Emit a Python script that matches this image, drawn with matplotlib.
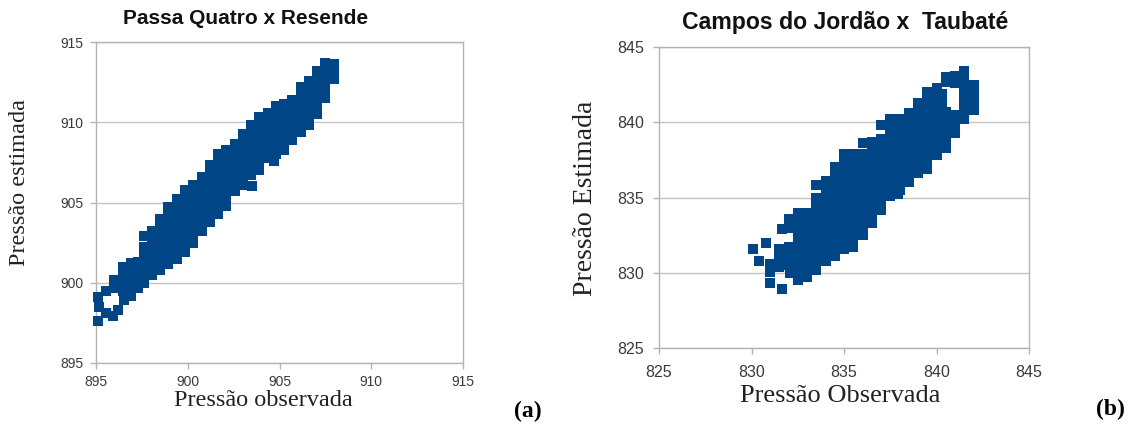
import matplotlib
matplotlib.use("Agg")
import matplotlib.pyplot as plt

# ---------------- data ----------------
pq_title = "Passa Quatro x Resende"
pq_xlabel = "Pressão observada"
pq_ylabel = "Pressão estimada"
pq_ticks = [895, 900, 905, 910, 915]
pq_pairs = [
    (895.1, 899.1), (895.15, 898.5), (895.1, 897.6), (895.55, 898.1), (895.95, 897.9),
    (896.2, 898.3), (895.55, 899.5), (896.0, 899.7), (896.0, 900.2), (896.5, 898.9),
    (896.45, 899.5), (896.45, 900.05), (896.45, 900.6), (896.45, 901.0),
    (896.9, 899.2), (896.9, 899.75), (896.9, 900.3), (896.9, 900.85), (896.9, 901.2),
    (897.3, 899.7), (897.3, 900.25), (897.3, 900.8), (897.3, 901.3),
    (897.6, 900.0), (897.6, 900.55), (897.6, 901.1), (897.6, 901.65), (897.6, 902.2), (897.6, 902.9),
    (898.05, 900.5), (898.05, 901.05), (898.05, 901.6), (898.05, 902.15), (898.05, 902.7), (898.05, 903.25),
    (898.5, 900.8), (898.5, 901.35), (898.5, 901.9), (898.5, 902.45), (898.5, 903.0), (898.5, 903.55), (898.5, 904.0),
    (898.95, 901.15), (898.95, 901.7), (898.95, 902.25), (898.95, 902.8), (898.95, 903.35), (898.95, 903.9),
    (898.95, 904.45), (898.95, 904.7),
    (899.4, 901.5), (899.4, 902.05), (899.4, 902.6), (899.4, 903.15), (899.4, 903.7), (899.4, 904.25),
    (899.4, 904.8), (899.4, 905.2),
    (899.85, 901.9), (899.85, 902.45), (899.85, 903.0), (899.85, 903.55), (899.85, 904.1), (899.85, 904.65),
    (899.85, 905.2), (899.85, 905.75),
    (900.3, 902.5), (900.3, 903.05), (900.3, 903.6), (900.3, 904.15), (900.3, 904.7), (900.3, 905.25),
    (900.3, 905.8), (900.3, 906.1),
    (900.75, 903.2), (900.75, 903.75), (900.75, 904.3), (900.75, 904.85), (900.75, 905.4), (900.75, 905.95),
    (900.75, 906.6),
    (901.2, 903.8), (901.2, 904.35), (901.2, 904.9), (901.2, 905.45), (901.2, 906.0), (901.2, 906.55),
    (901.2, 907.1), (901.2, 907.35),
    (901.65, 904.3), (901.65, 904.85), (901.65, 905.4), (901.65, 905.95), (901.65, 906.5), (901.65, 907.05),
    (901.65, 907.6), (901.65, 908.0),
    (902.1, 904.8), (902.1, 905.35), (902.1, 905.9), (902.1, 906.45), (902.1, 907.0), (902.1, 907.55),
    (902.1, 908.1), (902.1, 908.3),
    (902.55, 905.7), (902.55, 906.25), (902.55, 906.8), (902.55, 907.35), (902.55, 907.9), (902.55, 908.45),
    (902.55, 908.65),
    (903.0, 906.1), (903.0, 906.65), (903.0, 907.2), (903.0, 907.75), (903.0, 908.3), (903.0, 908.85),
    (903.0, 909.25),
    (903.5, 906.05),
    (903.45, 906.7), (903.45, 907.25), (903.45, 907.8), (903.45, 908.35), (903.45, 908.9), (903.45, 909.45),
    (903.45, 909.8),
    (903.9, 907.0), (903.9, 907.55), (903.9, 908.1), (903.9, 908.65), (903.9, 909.2), (903.9, 909.75),
    (903.9, 910.3),
    (904.35, 907.8), (904.35, 908.35), (904.35, 908.9), (904.35, 909.45), (904.35, 910.0), (904.35, 910.6),
    (904.7, 907.6),
    (904.8, 908.0), (904.8, 908.55), (904.8, 909.1), (904.8, 909.65), (904.8, 910.2), (904.8, 910.75),
    (904.8, 911.0),
    (905.25, 908.3), (905.25, 908.85), (905.25, 909.4), (905.25, 909.95), (905.25, 910.5), (905.25, 911.05),
    (905.25, 911.15),
    (905.7, 908.9), (905.7, 909.45), (905.7, 910.0), (905.7, 910.55), (905.7, 911.1), (905.7, 911.4),
    (906.15, 909.4), (906.15, 909.95), (906.15, 910.5), (906.15, 911.05), (906.15, 911.6), (906.15, 912.2),
    (906.6, 909.8), (906.6, 910.35), (906.6, 910.9), (906.6, 911.45), (906.6, 912.0), (906.6, 912.6),
    (907.05, 910.5), (907.05, 911.05), (907.05, 911.6), (907.05, 912.15), (907.05, 912.7), (907.05, 913.2),
    (907.5, 911.5), (907.5, 912.05), (907.5, 912.6), (907.5, 913.15), (907.5, 913.7),
    (907.95, 912.7), (907.95, 913.25), (907.95, 913.6),
]

cj_title = "Campos do Jordão x  Taubaté"
cj_xlabel = "Pressão Observada"
cj_ylabel = "Pressão Estimada"
cj_ticks = [825, 830, 835, 840, 845]
cj_pairs = [
    (830.1, 831.55), (830.4, 830.75), (830.8, 832.0), (831.65, 832.9), (831.0, 830.6),
    (831.0, 830.05), (831.0, 829.3), (831.65, 828.95), (832.5, 829.5), (833.5, 830.2),
    (831.5, 830.4), (831.5, 831.0), (831.5, 831.6),
    (832.1, 830.0), (832.0, 830.5), (832.0, 831.1), (832.0, 831.7), (832.0, 833.0), (832.0, 833.6),
    (832.5, 830.1), (832.5, 830.7), (832.5, 831.3), (832.5, 831.9), (832.5, 832.5), (832.5, 833.1),
    (832.5, 833.7), (832.5, 834.0),
    (833.0, 829.7), (833.0, 830.3), (833.0, 830.9), (833.0, 831.5), (833.0, 832.1), (833.0, 832.7),
    (833.0, 833.3), (833.0, 834.0),
    (833.5, 830.8), (833.5, 831.4), (833.5, 832.0), (833.5, 832.6), (833.5, 833.2), (833.5, 833.8),
    (833.5, 834.4), (833.5, 835.0), (833.5, 835.8),
    (834.0, 830.8), (834.0, 831.4), (834.0, 832.0), (834.0, 832.6), (834.0, 833.2), (834.0, 833.8),
    (834.0, 834.4), (834.0, 835.0), (834.0, 835.6), (834.0, 836.1),
    (834.5, 831.1), (834.5, 831.7), (834.5, 832.3), (834.5, 832.9), (834.5, 833.5), (834.5, 834.1),
    (834.5, 834.7), (834.5, 835.3), (834.5, 835.9), (834.5, 836.5), (834.5, 837.0),
    (835.0, 831.6), (835.0, 832.2), (835.0, 832.8), (835.0, 833.4), (835.0, 834.0), (835.0, 834.6),
    (835.0, 835.2), (835.0, 835.8), (835.0, 836.4), (835.0, 837.0), (835.0, 837.6), (835.0, 837.9),
    (835.5, 831.7), (835.5, 832.3), (835.5, 832.9), (835.5, 833.5), (835.5, 834.1), (835.5, 834.7),
    (835.5, 835.3), (835.5, 835.9), (835.5, 836.5), (835.5, 837.1), (835.5, 837.7), (835.5, 837.9),
    (836.0, 832.5), (836.0, 833.1), (836.0, 833.7), (836.0, 834.3), (836.0, 834.9), (836.0, 835.5),
    (836.0, 836.1), (836.0, 836.7), (836.0, 837.3), (836.0, 837.9), (836.0, 838.6),
    (836.5, 833.3), (836.5, 833.9), (836.5, 834.5), (836.5, 835.1), (836.5, 835.7), (836.5, 836.3),
    (836.5, 836.9), (836.5, 837.5), (836.5, 838.1), (836.5, 838.7),
    (837.0, 834.2), (837.0, 834.8), (837.0, 835.4), (837.0, 836.0), (837.0, 836.6), (837.0, 837.2),
    (837.0, 837.8), (837.0, 838.4), (837.0, 838.9), (837.0, 839.8),
    (837.5, 835.1), (837.5, 835.7), (837.5, 836.3), (837.5, 836.9), (837.5, 837.5), (837.5, 838.1),
    (837.5, 838.7), (837.5, 839.3), (837.5, 839.9), (837.5, 840.2),
    (837.9, 835.2),
    (838.0, 835.5), (838.0, 836.1), (838.0, 836.7), (838.0, 837.3), (838.0, 837.9), (838.0, 838.5),
    (838.0, 839.1), (838.0, 839.7), (838.0, 840.2),
    (838.5, 836.0), (838.5, 836.6), (838.5, 837.2), (838.5, 837.8), (838.5, 838.4), (838.5, 839.0),
    (838.5, 839.6), (838.5, 840.2), (838.5, 840.6),
    (839.0, 836.6), (839.0, 837.2), (839.0, 837.8), (839.0, 838.4), (839.0, 839.0), (839.0, 839.6),
    (839.0, 840.2), (839.0, 840.8), (839.0, 841.3),
    (839.5, 836.9), (839.5, 837.5), (839.5, 838.1), (839.5, 838.7), (839.5, 839.3), (839.5, 839.9),
    (839.5, 840.5), (839.5, 841.1), (839.5, 841.7), (839.5, 842.0),
    (840.0, 837.8), (840.0, 838.4), (840.0, 839.0), (840.0, 839.6), (840.0, 840.2), (840.0, 840.8),
    (840.0, 841.4), (840.0, 842.0), (840.0, 842.3),
    (840.3, 841.3), (840.3, 841.9),
    (840.5, 838.3), (840.5, 838.9), (840.5, 839.5), (840.5, 840.1), (840.5, 840.7), (840.5, 842.7),
    (840.5, 843.0),
    (841.0, 839.3), (841.0, 839.9), (841.0, 840.5), (841.0, 842.6), (841.0, 843.1),
    (841.5, 840.2), (841.5, 840.8), (841.5, 841.4), (841.5, 842.0), (841.5, 842.6), (841.5, 843.2),
    (841.5, 843.4),
    (842.0, 840.8), (842.0, 841.4), (842.0, 842.0), (842.0, 842.5),
]

pq_observada = [p[0] for p in pq_pairs]
pq_estimada = [p[1] for p in pq_pairs]
cj_observada = [p[0] for p in cj_pairs]
cj_estimada = [p[1] for p in cj_pairs]

# ---------------- style ----------------
W, H = 1129, 425
MARK = "#004586"
AXC = "#b3b3b3"
GRIDC = "#c4c4c4"
TXT = "#3a3a3a"
SANS = ["Liberation Sans", "DejaVu Sans"]
SERIF = ["Liberation Serif", "DejaVu Serif"]

fig = plt.figure(figsize=(W / 100, H / 100), dpi=100)


def px_axes(x0, y_top, x1, y_bot):
    return fig.add_axes([x0 / W, 1 - y_bot / H, (x1 - x0) / W, (y_bot - y_top) / H])


def style(ax, ticks, fs, xpad, ypad):
    ax.set_xlim(ticks[0], ticks[-1])
    ax.set_ylim(ticks[0], ticks[-1])
    ax.set_xticks(ticks)
    ax.set_yticks(ticks)
    ax.set_xticklabels([str(t) for t in ticks], family=SANS, fontsize=fs, color=TXT)
    ax.set_yticklabels([str(t) for t in ticks], family=SANS, fontsize=fs, color=TXT)
    for s in ax.spines.values():
        s.set_color(AXC)
        s.set_linewidth(1.0)
    ax.tick_params(axis="x", direction="out", length=4, width=1, color=AXC, pad=xpad)
    ax.tick_params(axis="y", direction="out", length=4, width=1, color=AXC, pad=ypad)
    ax.yaxis.grid(True, color=GRIDC, linewidth=1.0)
    ax.xaxis.grid(False)
    ax.set_axisbelow(True)


ax1 = px_axes(96, 42, 463, 363)
style(ax1, pq_ticks, 10, 5, 5)
ax1.scatter(pq_observada, pq_estimada, marker="s", s=7.1 ** 2, color=MARK,
            linewidths=0, zorder=3, clip_on=False)

ax2 = px_axes(659, 47, 1029, 348)
style(ax2, cj_ticks, 11.5, 8, 7)
ax2.scatter(cj_observada, cj_estimada, marker="s", s=7.6 ** 2, color=MARK,
            linewidths=0, zorder=3, clip_on=False)


def ftext(x, y, s, **kw):
    fig.text(x / W, 1 - y / H, s, ha="center", va="center", **kw)


ftext(246, 18, pq_title, family=SANS, fontsize=15, fontweight="bold", color="#111111")
ftext(845, 22, cj_title, family=SANS, fontsize=16.6, fontweight="bold", color="#111111")

ftext(20, 183, pq_ylabel, family=SERIF, fontsize=17.5, rotation=90, color="#222222")
ftext(263, 401, pq_xlabel, family=SERIF, fontsize=17.5, color="#222222")
ftext(585, 198, cj_ylabel, family=SERIF, fontsize=20, rotation=90, color="#222222")
ftext(840, 396, cj_xlabel, family=SERIF, fontsize=19, color="#222222")

ftext(528, 411, "(a)", family=SERIF, fontsize=17, fontweight="bold", color="#000000")
ftext(1110, 409, "(b)", family=SERIF, fontsize=17, fontweight="bold", color="#000000")

fig.savefig("out.png", dpi=100)
